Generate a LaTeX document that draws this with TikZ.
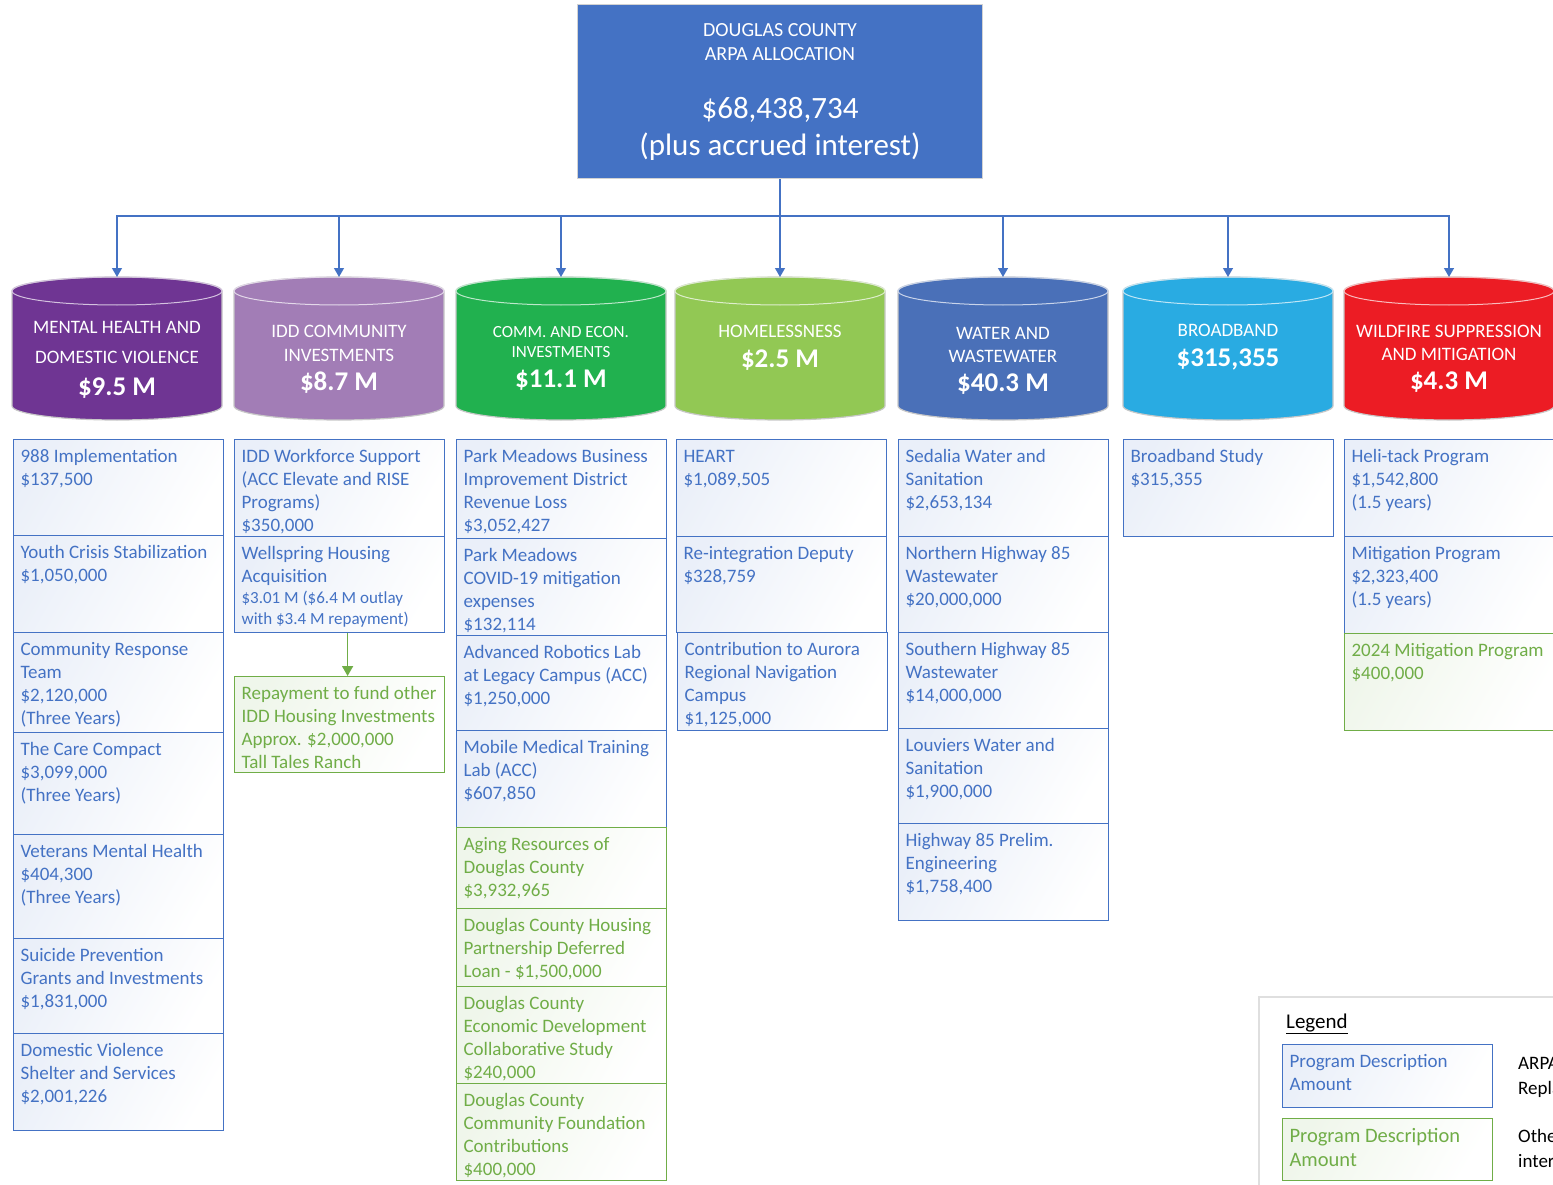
\documentclass[tikz,border=0pt]{standalone}
\usepackage{fontspec}
\setmainfont{Carlito}
\usetikzlibrary{arrows.meta}
\definecolor{allocblue}{HTML}{4472C4}
\definecolor{progblue}{HTML}{4472C4}
\definecolor{proggreen}{HTML}{70AD47}
\definecolor{mhpurple}{HTML}{6F3593}
\definecolor{iddlilac}{HTML}{A27DB6}
\definecolor{ceigreen}{HTML}{21B14F}
\definecolor{homegreen}{HTML}{92C854}
\definecolor{waterblue}{HTML}{4A70B8}
\definecolor{bbandcyan}{HTML}{29ABE2}
\definecolor{firered}{HTML}{EC1C24}
\definecolor{rimgray}{HTML}{C8C8C8}
\tikzstyle{alloc} = [fill=allocblue, draw=gray!35, line width=1pt, minimum width=405pt, minimum height=174pt, inner sep=0pt, text=white]
\tikzstyle{arpabox} = [draw=progblue, line width=1.2pt, anchor=north west, inner sep=7pt, text=progblue, left color=progblue!11, right color=white, shading angle=60, font=\fontsize{19}{23}\selectfont]
\tikzstyle{otherbox} = [arpabox, draw=proggreen, text=proggreen, left color=proggreen!11, right color=white, shading angle=60]
\tikzstyle{drumlbl} = [anchor=base, inner sep=0pt, text=white]
\tikzstyle{trunk} = [draw=allocblue, line width=1.3pt]
\tikzstyle{feed} = [trunk, -{Triangle[length=9pt,width=10pt]}]
\tikzstyle{repay} = [draw=proggreen, line width=1.6pt, -{Triangle[length=10pt,width=11pt]}]
\tikzstyle{legtxt} = [anchor=base west, inner sep=0pt, align=left, font=\fontsize{19}{25}\selectfont]
% box text: height of box, lines
\newcommand{\entry}[2]{\begin{minipage}[t][\dimexpr#1pt-14pt\relax][t]{196pt}\raggedright\strut#2\end{minipage}}
% drum: name, centre x, colour, first baseline, amount skip, caps lines, amount
\newcommand{\drum}[7]{%
  \filldraw[fill=#3, draw=rimgray, line width=1.2pt] (#2-105,291) -- (#2-105,406)
    arc[start angle=180, end angle=360, x radius=105pt, y radius=14pt] -- (#2+105,291)
    arc[start angle=0, end angle=180, x radius=105pt, y radius=14pt] -- cycle;
  \draw[white!70!#3, line width=1pt] (#2,291) ellipse [x radius=105pt, y radius=14pt];
  \coordinate (#1-top) at (#2,277);
  \node[drumlbl] (#1) at (#2,#4) {\begin{minipage}[t]{205pt}\centering\fontsize{19}{24}\selectfont #6\par\fontsize{27}{#5}\selectfont\bfseries #7\end{minipage}};
}

\begin{document}
\begin{tikzpicture}[x=1pt,y=-1pt]
\useasboundingbox (0,0) rectangle (1553,1185);
\clip (0,0) rectangle (1553,1185);

% top allocation
\node[alloc] (alloc) at (780,92) {\begin{minipage}{395pt}\centering\fontsize{20}{24}\selectfont DOUGLAS COUNTY\\ARPA ALLOCATION\par\vspace{21pt}\fontsize{31}{37}\selectfont \$68,438,734\\(plus accrued interest)\end{minipage}};

% categories
\drum{mh}{117}{mhpurple}{333}{32.5}{\fontsize{19}{30}\selectfont MENTAL HEALTH AND\\DOMESTIC VIOLENCE}{\$9.5 M}
\drum{idd}{339}{iddlilac}{337}{29.5}{IDD COMMUNITY\\INVESTMENTS}{\$8.7 M}
\drum{cei}{561}{ceigreen}{337.5}{30}{\fontsize{17}{20}\selectfont COMM. AND ECON.\\INVESTMENTS}{\$11.1 M}
\drum{home}{780}{homegreen}{337}{30.5}{HOMELESSNESS}{\$2.5 M}
\drum{water}{1003}{waterblue}{339}{29.5}{\fontsize{19}{23}\selectfont WATER AND\\WASTEWATER}{\$40.3 M}
\drum{bband}{1228}{bbandcyan}{336}{30.5}{BROADBAND}{\$315,355}
\drum{fire}{1449}{firered}{337}{29.5}{\fontsize{19}{23}\selectfont WILDFIRE SUPPRESSION\\AND MITIGATION}{\$4.3 M}

\coordinate (bus) at (780,216);
\draw[trunk] (alloc.south) -- (bus);
\foreach \n in {mh,idd,cei,home,water,bband,fire}
  \draw[feed] (bus) -| (\n-top);

% mental health
\node[arpabox] (mh1) at (13,439) {\entry{96}{988 Implementation\\\$137,500}};
\node[arpabox] (mh2) at (13,535) {\entry{97}{Youth Crisis Stabilization\\\$1,050,000}};
\node[arpabox] (mh3) at (13,632) {\entry{100}{Community Response\\Team\\\$2,120,000\\(Three Years)}};
\node[arpabox] (mh4) at (13,732) {\entry{102}{The Care Compact\\\$3,099,000\\(Three Years)}};
\node[arpabox] (mh5) at (13,834) {\entry{104}{Veterans Mental Health\\\$404,300\\(Three Years)}};
\node[arpabox] (mh6) at (13,938) {\entry{95}{Suicide Prevention\\Grants and Investments\\\$1,831,000}};
\node[arpabox] (mh7) at (13,1033) {\entry{97}{Domestic Violence\\Shelter and Services\\\$2,001,226}};

% idd
\node[arpabox] (idd1) at (234,439) {\entry{97}{IDD Workforce Support\\(ACC Elevate and RISE\\Programs)\\\$350,000}};
\node[arpabox] (idd2) at (234,536) {\entry{96}{Wellspring Housing\\Acquisition\par\fontsize{17}{21}\selectfont \$3.01 M (\$6.4 M outlay\\with \$3.4 M repayment)}};
\node[otherbox] (idd3) at (234,676) {\entry{96}{Repayment to fund other\\IDD Housing Investments\\Approx. \$2,000,000\\Tall Tales Ranch}};
\draw[repay] ([xshift=8pt]idd2.south) -- ([xshift=8pt]idd3.north);

% community and economic
\node[arpabox] (cei1) at (456,439) {\entry{99}{Park Meadows Business\\Improvement District\\Revenue Loss\\\$3,052,427}};
\node[arpabox] (cei2) at (456,538) {\entry{97}{Park Meadows\\COVID-19 mitigation\\expenses\\\$132,114}};
\node[arpabox] (cei3) at (456,635) {\entry{95}{Advanced Robotics Lab\\at Legacy Campus (ACC)\\\$1,250,000}};
\node[arpabox] (cei4) at (456,730) {\entry{97}{Mobile Medical Training\\Lab (ACC)\\\$607,850}};
\node[otherbox] (cei5) at (456,827) {\entry{81}{Aging Resources of\\Douglas County\\\$3,932,965}};
\node[otherbox] (cei6) at (456,908) {\entry{78}{Douglas County Housing\\Partnership Deferred\\Loan - \$1,500,000}};
\node[otherbox] (cei7) at (456,986) {\entry{97}{Douglas County\\Economic Development\\Collaborative Study\\\$240,000}};
\node[otherbox] (cei8) at (456,1083) {\entry{97}{Douglas County\\Community Foundation\\Contributions\\\$400,000}};

% homelessness
\node[arpabox] (home1) at (676,439) {\entry{97}{HEART\\\$1,089,505}};
\node[arpabox] (home2) at (676,536) {\entry{96}{Re-integration Deputy\\\$328,759}};
\node[arpabox] (home3) at (677,632) {\entry{98}{Contribution to Aurora\\Regional Navigation\\Campus\\\$1,125,000}};

% water
\node[arpabox] (water1) at (898,439) {\entry{97}{Sedalia Water and\\Sanitation\\\$2,653,134}};
\node[arpabox] (water2) at (898,536) {\entry{96}{Northern Highway 85\\Wastewater\\\$20,000,000}};
\node[arpabox] (water3) at (898,632) {\entry{96}{Southern Highway 85\\Wastewater\\\$14,000,000}};
\node[arpabox] (water4) at (898,728) {\entry{95}{Louviers Water and\\Sanitation\\\$1,900,000}};
\node[arpabox] (water5) at (898,823) {\entry{97}{Highway 85 Prelim.\\Engineering\\\$1,758,400}};

% broadband
\node[arpabox] (bband1) at (1123,439) {\entry{97}{Broadband Study\\\$315,355}};

% wildfire
\node[arpabox] (fire1) at (1344,439) {\entry{97}{Heli-tack Program\\\$1,542,800\\(1.5 years)}};
\node[arpabox] (fire2) at (1344,536) {\entry{97}{Mitigation Program\\\$2,323,400\\(1.5 years)}};
\node[otherbox] (fire3) at (1344,633) {\entry{97}{2024 Mitigation Program\\\$400,000}};

% legend
\draw[draw=gray!25, line width=1.5pt] (1259,997) rectangle (1620,1240);
\node[anchor=base west, inner sep=0pt, font=\fontsize{21}{25}\selectfont] (legtitle) at (1286,1028) {\underline{Legend}};
\node[arpabox] (legarpa) at (1282,1044) {\entry{63}{Program Description\\Amount}};
\node[otherbox, font=\fontsize{20.5}{24}\selectfont] (legother) at (1282,1118) {\entry{62}{Program Description\\Amount}};
\node[legtxt] (legarpatxt) at (1518,1094) {ARPA\\Repla};
\node[legtxt] (legothertxt) at (1518,1167) {Other\\inter};
\end{tikzpicture}
\end{document}
